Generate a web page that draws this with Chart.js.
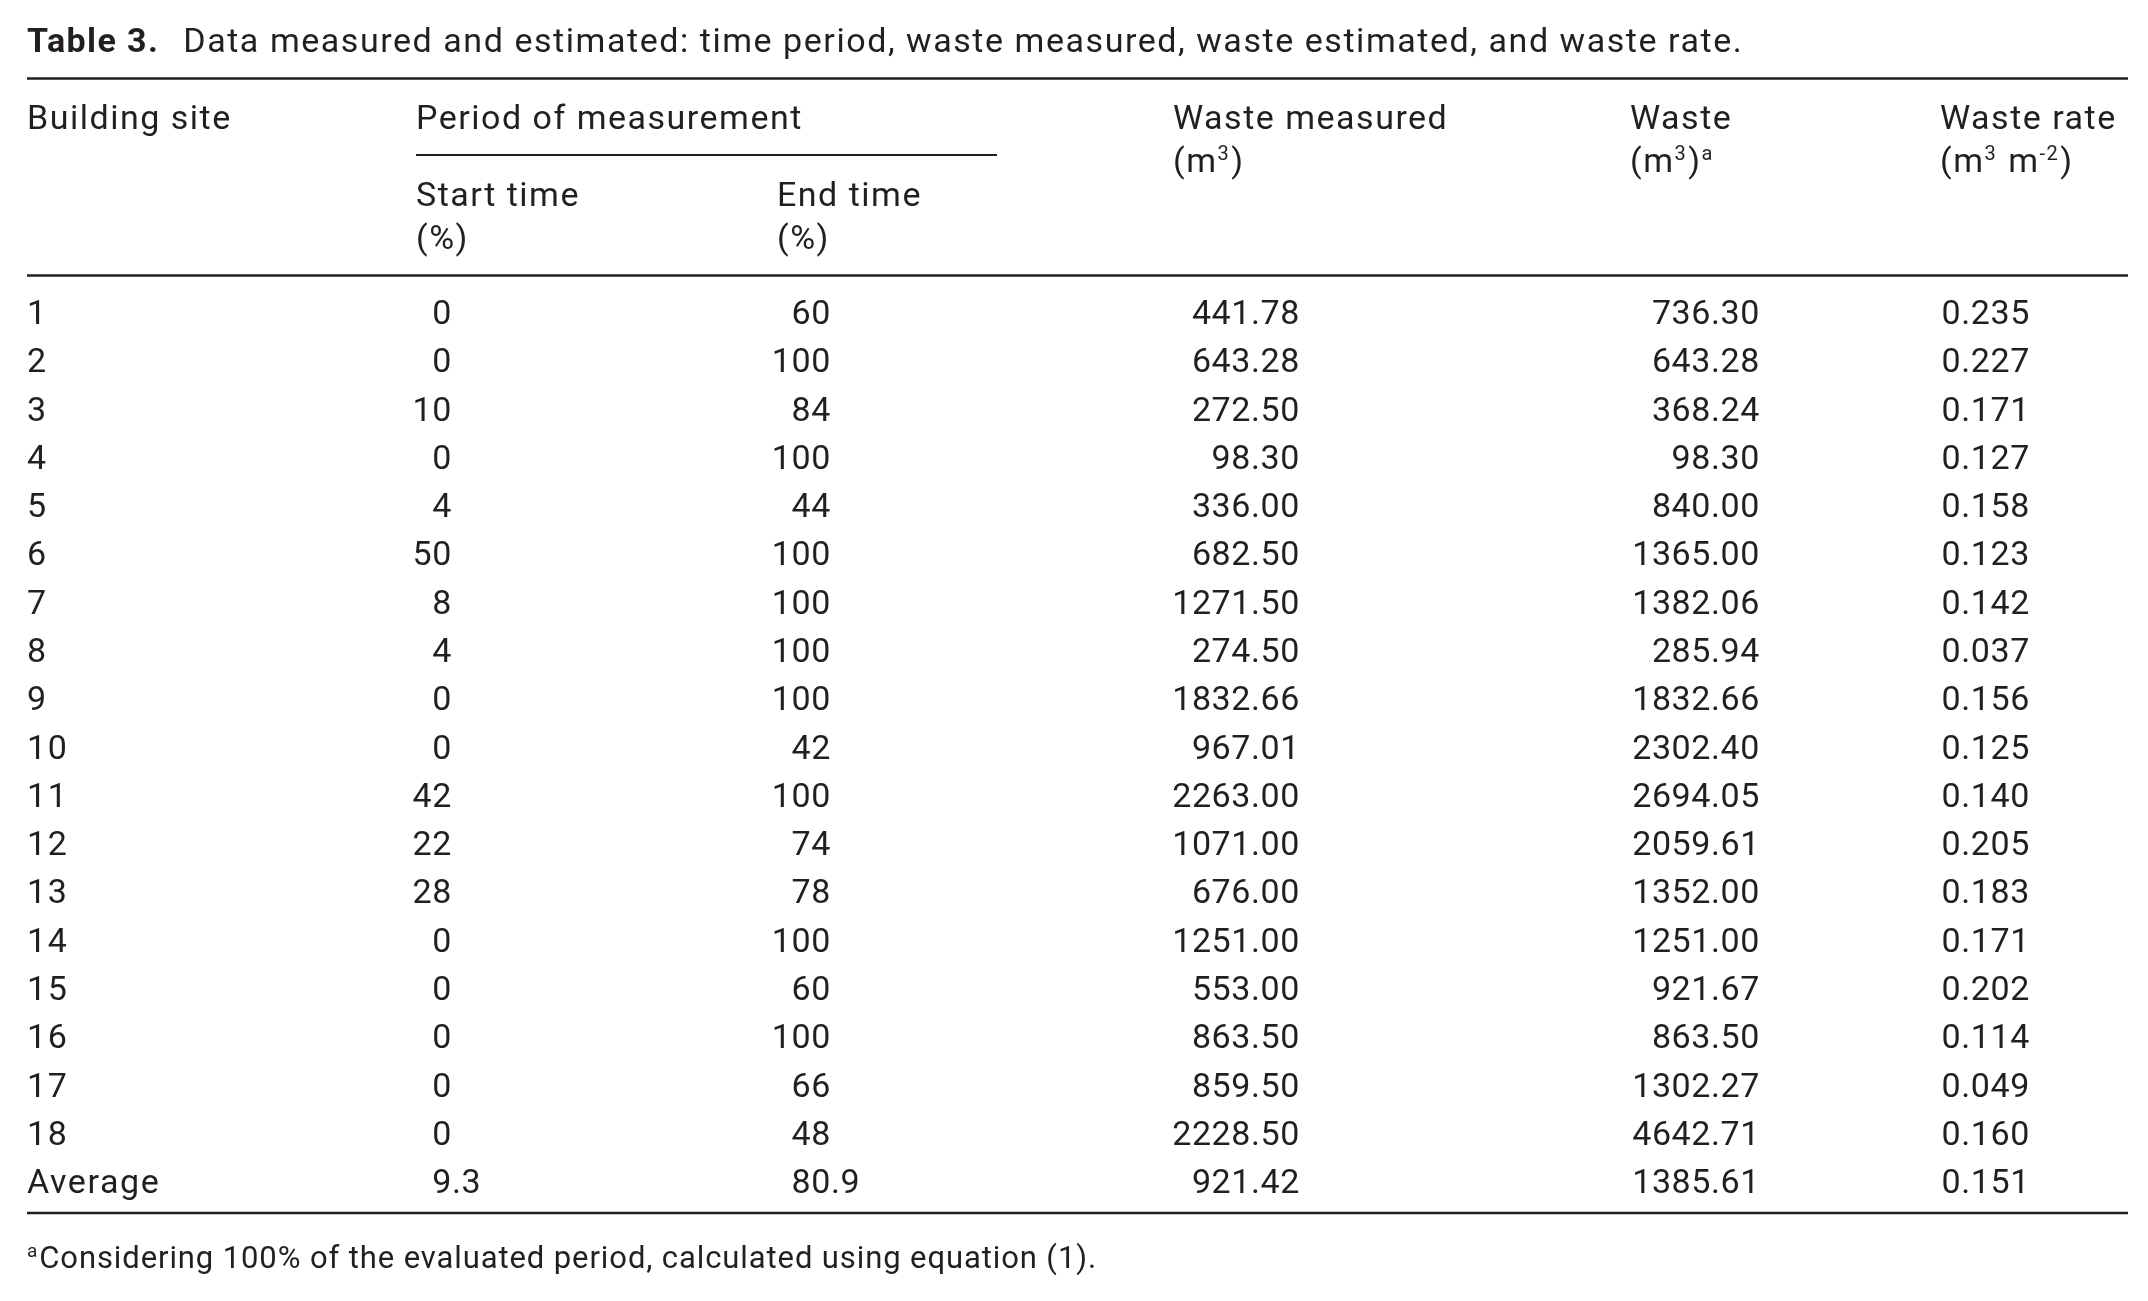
<!DOCTYPE html>
<html>
<head>
<meta charset="utf-8">
<title>Table 3</title>
<script src="https://cdn.jsdelivr.net/npm/chart.js@4.4.1/dist/chart.umd.min.js"></script>
<style>
  html, body { margin: 0; padding: 0; background: #fff; }
  canvas { display: block; }
</style>
</head>
<body>
<canvas id="table3" width="2148" height="1301"></canvas>
<script>
const sites = ['1', '2', '3', '4', '5', '6', '7', '8', '9', '10', '11', '12', '13', '14', '15', '16', '17', '18', 'Average'];
const startTime = [0, 0, 10, 0, 4, 50, 8, 4, 0, 0, 42, 22, 28, 0, 0, 0, 0, 0, 9.3];
const endTime = [60, 100, 84, 100, 44, 100, 100, 100, 100, 42, 100, 74, 78, 100, 60, 100, 66, 48, 80.9];
const wasteMeasured = [441.78, 643.28, 272.50, 98.30, 336.00, 682.50, 1271.50, 274.50, 1832.66, 967.01, 2263.00, 1071.00, 676.00, 1251.00, 553.00, 863.50, 859.50, 2228.50, 921.42];
const wasteEstimated = [736.30, 643.28, 368.24, 98.30, 840.00, 1365.00, 1382.06, 285.94, 1832.66, 2302.40, 2694.05, 2059.61, 1352.00, 1251.00, 921.67, 863.50, 1302.27, 4642.71, 1385.61];
const wasteRate = [0.235, 0.227, 0.171, 0.127, 0.158, 0.123, 0.142, 0.037, 0.156, 0.125, 0.140, 0.205, 0.183, 0.171, 0.202, 0.114, 0.049, 0.160, 0.151];

const titleBold = 'Table 3.';
const titleText = 'Data measured and estimated: time period, waste measured, waste estimated, and waste rate.';
const footnote = [{ t: 'a', sup: true }, { t: 'Considering 100% of the evaluated period, calculated using equation (1).' }];

// layout (x in table units = px from table left edge)
const INK = '#231f20';
const FONT = 'Roboto, "Noto Sans", sans-serif';
const TABLE_W = 2101;
const cols = [
  { values: sites, x: 0, align: 'left', fmt: v => v, spacing: '1.6px' },
  { values: startTime, x: 425, align: 'decimal', fmt: v => String(v), spacing: '0.6px' },
  { values: endTime, x: 804, align: 'decimal', fmt: v => String(v), spacing: '0.6px' },
  { values: wasteMeasured, x: 1273, align: 'right', fmt: v => v.toFixed(2), spacing: '0.6px' },
  { values: wasteEstimated, x: 1733, align: 'right', fmt: v => v.toFixed(2), spacing: '0.6px' },
  { values: wasteRate, x: 2003, align: 'right', fmt: v => v.toFixed(3), spacing: '0.6px' }
];
const headers = [
  { x: 0, y: 129, runs: [{ t: 'Building site' }] },
  { x: 389, y: 129, runs: [{ t: 'Period of measurement' }] },
  { x: 389, y: 206, runs: [{ t: 'Start time' }] },
  { x: 389, y: 249, runs: [{ t: '(%)' }] },
  { x: 750, y: 206, runs: [{ t: 'End time' }] },
  { x: 750, y: 249, runs: [{ t: '(%)' }] },
  { x: 1146, y: 129, runs: [{ t: 'Waste measured' }] },
  { x: 1146, y: 172, runs: [{ t: '(m' }, { t: '3', sup: true }, { t: ')' }] },
  { x: 1603, y: 129, runs: [{ t: 'Waste' }] },
  { x: 1603, y: 172, runs: [{ t: '(m' }, { t: '3', sup: true }, { t: ')' }, { t: 'a', sup: true }] },
  { x: 1913, y: 129, runs: [{ t: 'Waste rate' }] },
  { x: 1913, y: 172, runs: [{ t: '(m' }, { t: '3', sup: true }, { t: ' m' }, { t: '-2', sup: true }, { t: ')' }] }
];

function drawRuns(ctx, runs, x, y, size) {
  let cx = x;
  runs.forEach(r => {
    const s = r.sup ? Math.round(size * 0.6) : size;
    ctx.font = s + 'px ' + FONT;
    ctx.textAlign = 'left';
    ctx.fillText(r.t, cx, r.sup ? y - size * 0.34 : y);
    cx += ctx.measureText(r.t).width + (r.sup ? 1 : 0);
  });
}

const tablePlugin = {
  id: 'tablePlugin',
  afterDatasetsDraw(chart) {
    const ctx = chart.ctx;
    const xs = chart.scales.x;
    const px = v => xs.getPixelForValue(v);
    const size = 34;
    ctx.save();
    ctx.fillStyle = INK;
    ctx.strokeStyle = INK;
    ctx.textBaseline = 'alphabetic';

    // title
    ctx.letterSpacing = '1.4px';
    ctx.font = 'bold ' + size + 'px ' + FONT;
    ctx.textAlign = 'left';
    ctx.fillText(titleBold, px(0), 52);
    const bw = ctx.measureText(titleBold).width;
    ctx.letterSpacing = '1.55px';
    ctx.font = size + 'px ' + FONT;
    ctx.fillText(titleText, px(0) + bw + 24, 52);

    // rules
    const rule = (x0, x1, y, w) => {
      ctx.lineWidth = w;
      ctx.beginPath();
      ctx.moveTo(px(x0), y);
      ctx.lineTo(px(x1), y);
      ctx.stroke();
    };
    const ys = chart.scales.y;
    const firstRow = ys.getPixelForValue(0);
    const lastRow = ys.getPixelForValue(sites.length - 1);
    rule(0, TABLE_W, 78.5, 2.5);
    rule(389, 970, 155, 2);
    rule(0, TABLE_W, firstRow - 36.5, 2.5);
    rule(0, TABLE_W, lastRow + 32, 2.5);

    // headers
    ctx.letterSpacing = '1.5px';
    headers.forEach(h => drawRuns(ctx, h.runs, px(h.x), h.y, size));

    // cells, placed by the scales
    const capHalf = size * 0.711 / 2;
    ctx.font = size + 'px ' + FONT;
    chart.data.datasets.forEach((ds, di) => {
      const col = cols[di];
      ctx.letterSpacing = col.spacing;
      chart.getDatasetMeta(di).data.forEach((pt, i) => {
        const s = col.fmt(col.values[i]);
        const y = pt.y + capHalf;
        if (col.align === 'decimal') {
          const k = s.indexOf('.');
          const ip = k < 0 ? s : s.slice(0, k);
          const fp = k < 0 ? '' : s.slice(k);
          ctx.textAlign = 'right';
          ctx.fillText(ip, pt.x, y);
          if (fp) {
            ctx.textAlign = 'left';
            ctx.fillText(fp, pt.x, y);
          }
        } else {
          ctx.textAlign = col.align;
          ctx.fillText(s, pt.x, y);
        }
      });
    });

    // footnote
    ctx.letterSpacing = '0.9px';
    drawRuns(ctx, footnote, px(0), 1268, 31);
    ctx.restore();
  }
};

new Chart(document.getElementById('table3'), {
  type: 'scatter',
  data: {
    datasets: cols.map(c => ({
      data: c.values.map((v, i) => ({ x: c.x, y: i })),
      pointRadius: 0,
      pointHoverRadius: 0,
      showLine: false
    }))
  },
  options: {
    responsive: false,
    devicePixelRatio: 1,
    animation: false,
    events: [],
    layout: { padding: { left: 27, right: 20, top: 312, bottom: 120 } },
    scales: {
      x: { type: 'linear', min: 0, max: TABLE_W, display: false },
      y: { type: 'linear', min: 0, max: sites.length - 1, reverse: true, display: false }
    },
    plugins: { legend: { display: false }, tooltip: { enabled: false } }
  },
  plugins: [tablePlugin]
});
</script>
</body>
</html>
